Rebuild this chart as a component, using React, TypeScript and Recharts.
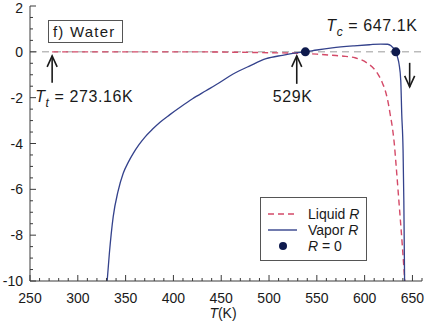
import { ComposedChart, Line, Scatter, XAxis, YAxis, ReferenceLine, ReferenceDot, Legend } from "recharts";

// temperatures (K) and R values
const T_LIQUID = [273.16, 350, 420, 470, 500, 530, 550, 566, 580, 590, 603, 610, 615, 619, 622, 625, 627, 629, 631, 633, 636, 639.5, 642];
const R_LIQUID = [0, 0, 0, -0.02, -0.04, -0.06, -0.1, -0.15, -0.2, -0.26, -0.5, -0.75, -1.05, -1.4, -1.75, -2.3, -2.8, -3.3, -4.0, -5.0, -6.6, -8.5, -10];

const T_VAPOR = [330.7, 333, 337, 342, 347.5, 353, 358, 364, 370, 378, 386, 396, 407, 420, 434, 448, 462, 480, 497, 514, 528, 538, 550, 566, 589, 605, 617, 624, 628, 631, 632.6, 634.5, 636, 637.8, 638.8, 640.2, 641, 641.8];
const R_VAPOR = [-10, -8.8, -7.2, -6.1, -5.3, -4.8, -4.43, -4.05, -3.73, -3.38, -3.07, -2.75, -2.42, -2.05, -1.7, -1.35, -0.98, -0.61, -0.3, -0.15, -0.05, 0, 0.08, 0.17, 0.26, 0.31, 0.34, 0.33, 0.25, 0.12, 0, -0.25, -0.53, -1.26, -2.7, -4.3, -6.5, -10];

const T_ZERO = [538, 632.6];

const T_TRIPLE = 273.16;
const T_529 = 529;
const T_CRIT = 647.1;

const X_LABELS = [250, 300, 350, 400, 450, 500, 550, 600, 650];
const Y_LABELS = [-10, -8, -6, -4, -2, 0, 2];
const LEGEND_ORDER = ["Liquid", "Vapor", "R = 0"];

const step = (a: number, b: number, d: number) => {
  const out: number[] = [];
  for (let v = a; v <= b + 1e-9; v += d) out.push(Math.round(v * 100) / 100);
  return out;
};
const X_TICKS = step(250, 660, 10);
const Y_TICKS = step(-10, 2, 0.5);

const liquid = T_LIQUID.map((t, i) => ({ t, r: R_LIQUID[i] }));
const vapor = T_VAPOR.map((t, i) => ({ t, r: R_VAPOR[i] }));
const zeros = T_ZERO.map((t) => ({ t, r: 0 }));

const FONT = "'Liberation Sans', Arial, sans-serif";
const AXIS = "#3a3a3a";
const RED = "#d44a68";
const BLUE = "#34428c";
const DOT = "#0e1a4d";
const INK = "#1a1a1a";

const isMajorX = (v: number) => X_LABELS.includes(v);
const isMajorY = (v: number) => Y_LABELS.includes(v);

function BottomTick({ x, y, payload }: any) {
  const major = isMajorX(payload.value);
  return (
    <g>
      <line x1={x} x2={x} y1={y} y2={y - (major ? 6 : 3)} stroke={AXIS} />
      {major && (
        <text x={x} y={y + 22} textAnchor="middle" fontSize={14} fill={INK} fontFamily={FONT}>
          {payload.value}
        </text>
      )}
    </g>
  );
}

function TopTick({ x, y, payload }: any) {
  const major = isMajorX(payload.value);
  return <line x1={x} x2={x} y1={y} y2={y + (major ? 6 : 3)} stroke={AXIS} />;
}

function LeftTick({ x, y, payload }: any) {
  const major = isMajorY(payload.value);
  return (
    <g>
      <line x1={x} x2={x + (major ? 6 : 3)} y1={y} y2={y} stroke={AXIS} />
      {major && (
        <text x={x - 7} y={Math.max(y + 5, 13)} textAnchor="end" fontSize={14} fill={INK} fontFamily={FONT}>
          {payload.value}
        </text>
      )}
    </g>
  );
}

function RightTick({ x, y, payload }: any) {
  const major = isMajorY(payload.value);
  return <line x1={x} x2={x - (major ? 6 : 3)} y1={y} y2={y} stroke={AXIS} />;
}

function arrowHead(x: number, y: number, dir: number) {
  return `${x - 5},${y - dir * 11} ${x},${y} ${x + 5},${y - dir * 11}`;
}

function Arrow({ x, y0, y1 }: { x: number; y0: number; y1: number }) {
  return (
    <g stroke={INK} strokeWidth={1.6} fill="none">
      <line x1={x} x2={x} y1={y0} y2={y1} />
      <polyline points={arrowHead(x, y1, y1 > y0 ? 1 : -1)} />
    </g>
  );
}

function TripleMark({ cx, cy }: any) {
  return (
    <g fontFamily={FONT} fill={INK}>
      <Arrow x={cx} y0={cy + 31} y1={cy + 4} />
      <text x={cx - 17} y={cy + 50} fontSize={16} letterSpacing={0.6}>
        <tspan fontStyle="italic">T</tspan>
        <tspan fontStyle="italic" fontSize={12} dy={5}>t</tspan>
        <tspan dy={-5}> = 273.16K</tspan>
      </text>
    </g>
  );
}

function Mark529({ cx, cy }: any) {
  return (
    <g fontFamily={FONT} fill={INK}>
      <Arrow x={cx} y0={cy + 32} y1={cy + 4} />
      <text x={cx - 4} y={cy + 50} fontSize={16} textAnchor="middle" letterSpacing={0.6}>
        529K
      </text>
    </g>
  );
}

function CritMark({ cx, cy }: any) {
  return (
    <g fontFamily={FONT} fill={INK}>
      <Arrow x={cx} y0={cy + 11} y1={cy + 35} />
      <text x={cx + 8} y={cy - 21} fontSize={16} textAnchor="end" letterSpacing={0.6}>
        <tspan fontStyle="italic">T</tspan>
        <tspan fontStyle="italic" fontSize={12} dy={5}>c</tspan>
        <tspan dy={-5}> = 647.1K</tspan>
      </text>
    </g>
  );
}

function TitleBox({ cx, cy }: any) {
  return (
    <g fontFamily={FONT}>
      <rect x={cx + 18.5} y={cy + 14.5} width={74} height={22} fill="#fff" stroke="#555" />
      <text x={cx + 23} y={cy + 31} fontSize={15} fill={INK} letterSpacing={1.2}>
        f) Water
      </text>
    </g>
  );
}

function LegendBox({ payload }: any) {
  const items = [...(payload || [])].sort(
    (a: any, b: any) => LEGEND_ORDER.indexOf(a.value) - LEGEND_ORDER.indexOf(b.value)
  );
  return (
    <svg width={108} height={65} style={{ display: "block" }}>
      <rect x={0.5} y={0.5} width={106} height={63} fill="#fff" stroke="#555" />
      {items.map((e: any, i: number) => {
        const y = 17 + i * 16;
        const isDot = e.value === "R = 0";
        return (
          <g key={i} fontFamily={FONT} fontSize={14} fill={INK}>
            {isDot ? (
              <circle cx={23} cy={y} r={4} fill={DOT} />
            ) : (
              <line
                x1={8}
                x2={37}
                y1={y}
                y2={y}
                stroke={e.color}
                strokeWidth={1.4}
                strokeDasharray={e.value === "Liquid" ? "6 4" : undefined}
              />
            )}
            <text x={48} y={y + 5}>
              {isDot ? (
                <>
                  <tspan fontStyle="italic">R</tspan> = 0
                </>
              ) : (
                <>
                  {e.value} <tspan fontStyle="italic">R</tspan>
                </>
              )}
            </text>
          </g>
        );
      })}
    </svg>
  );
}

export default function App() {
  return (
    <div style={{ position: "absolute", left: 0, top: 0, width: 427, height: 321, background: "#fff" }}>
      <ComposedChart width={427} height={321} margin={{ top: 6, right: 5, left: 0, bottom: 0 }}>
        <XAxis
          xAxisId="b"
          dataKey="t"
          type="number"
          domain={[250, 660]}
          allowDataOverflow
          ticks={X_TICKS}
          interval={0}
          height={40}
          stroke={AXIS}
          tickSize={0}
          tickMargin={0}
          tickLine={false}
          tick={<BottomTick />}
          label={{
            content: (p: any) => {
              const vb = p.viewBox;
              return (
                <text x={vb.x + vb.width / 2 - 3} y={vb.y + 37} textAnchor="middle" fontSize={14} fill={INK} fontFamily={FONT}>
                  <tspan fontStyle="italic">T</tspan>(K)
                </text>
              );
            },
          }}
        />
        <XAxis
          xAxisId="top"
          orientation="top"
          dataKey="t"
          type="number"
          domain={[250, 660]}
          allowDataOverflow
          ticks={X_TICKS}
          interval={0}
          height={0}
          stroke={AXIS}
          tickSize={0}
          tickMargin={0}
          tickLine={false}
          tick={<TopTick />}
        />
        <YAxis
          yAxisId="l"
          type="number"
          domain={[-10, 2]}
          allowDataOverflow
          ticks={Y_TICKS}
          interval={0}
          width={30}
          stroke={AXIS}
          tickSize={0}
          tickMargin={0}
          tickLine={false}
          tick={<LeftTick />}
        />
        <YAxis
          yAxisId="r"
          orientation="right"
          type="number"
          domain={[-10, 2]}
          allowDataOverflow
          ticks={Y_TICKS}
          interval={0}
          width={0}
          stroke={AXIS}
          tickSize={0}
          tickMargin={0}
          tickLine={false}
          tick={<RightTick />}
        />
        <ReferenceLine xAxisId="b" yAxisId="l" y={0} stroke="#9a9a9a" strokeDasharray="7 5" strokeWidth={1} />
        <Line
          xAxisId="b"
          yAxisId="l"
          data={liquid}
          dataKey="r"
          name="Liquid"
          type="monotone"
          stroke={RED}
          strokeWidth={1.4}
          strokeDasharray="6 4"
          dot={false}
          isAnimationActive={false}
        />
        <Line
          xAxisId="b"
          yAxisId="l"
          data={vapor}
          dataKey="r"
          name="Vapor"
          type="monotone"
          stroke={BLUE}
          strokeWidth={1.3}
          dot={false}
          isAnimationActive={false}
        />
        <Scatter
          xAxisId="b"
          yAxisId="l"
          data={zeros}
          dataKey="r"
          name="R = 0"
          fill={DOT}
          shape={(p: any) => <circle cx={p.cx} cy={p.cy} r={4.5} fill={DOT} />}
          isAnimationActive={false}
        />
        <ReferenceDot xAxisId="b" yAxisId="l" x={250} y={2} r={0} ifOverflow="visible" shape={(p: any) => <TitleBox {...p} />} />
        <ReferenceDot xAxisId="b" yAxisId="l" x={T_TRIPLE} y={0} r={0} ifOverflow="visible" shape={(p: any) => <TripleMark {...p} />} />
        <ReferenceDot xAxisId="b" yAxisId="l" x={T_529} y={0} r={0} ifOverflow="visible" shape={(p: any) => <Mark529 {...p} />} />
        <ReferenceDot xAxisId="b" yAxisId="l" x={T_CRIT} y={0} r={0} ifOverflow="visible" shape={(p: any) => <CritMark {...p} />} />
        <Legend
          layout="vertical"
          align="center"
          verticalAlign="middle"
          wrapperStyle={{ left: 260, top: 197, width: 108, height: 65 }}
          content={(p: any) => <LegendBox {...p} />}
        />
      </ComposedChart>
    </div>
  );
}
